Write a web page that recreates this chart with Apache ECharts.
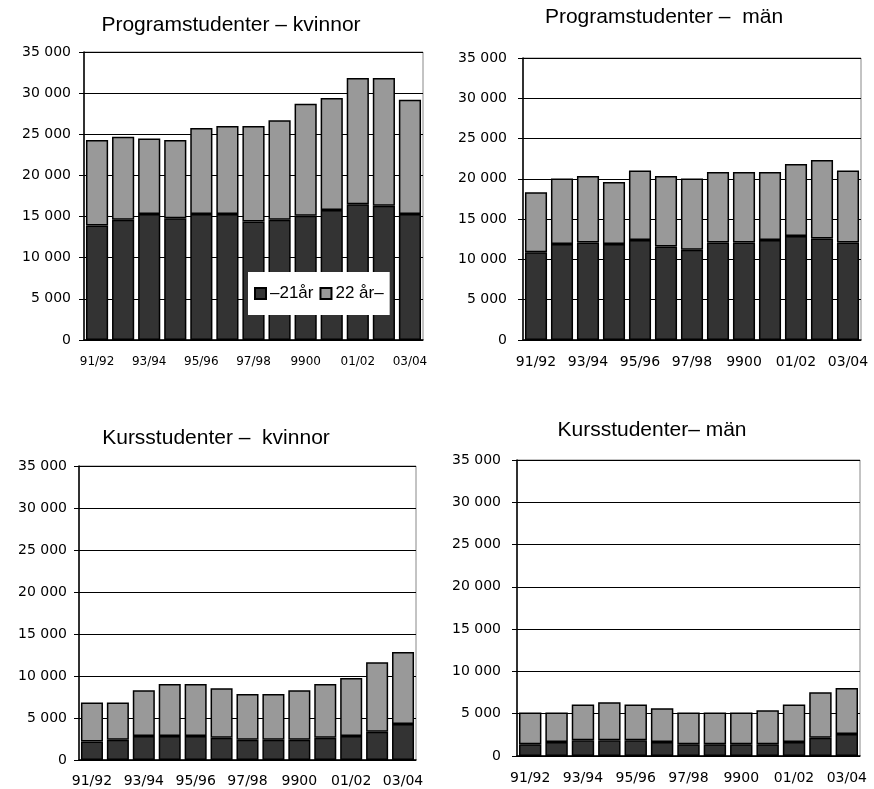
<!DOCTYPE html>
<html>
<head>
<meta charset="utf-8">
<script src="https://cdn.jsdelivr.net/npm/echarts@6/dist/echarts.min.js"></script>
<style>html,body{margin:0;padding:0;background:#fff}#c{width:874px;height:789px}</style>
</head>
<body>
<div id="c"></div>
<script>
var categories = ['91/92','92/93','93/94','94/95','95/96','96/97','97/98','98/99','9900','00/01','01/02','02/03','03/04'];
var seriesNames = ['\u201321år', '22 år\u2013'];
var titles = ['Programstudenter \u2013 kvinnor', 'Programstudenter \u2013  män', 'Kursstudenter \u2013  kvinnor', 'Kursstudenter\u2013 män'];

// Programstudenter – kvinnor
var progKvinnorUnder22 = [13900,14600,15300,14800,15300,15300,14400,14600,15100,15800,16500,16300,15300];
var progKvinnor22Plus  = [10400,10100,9200,9500,10450,10700,11600,12100,13600,13600,15350,15550,13900];
// Programstudenter – män
var progManUnder22 = [10900,11900,12100,11900,12400,11600,11200,12100,12100,12400,12900,12600,12100];
var progMan22Plus  = [7450,8150,8250,7700,8650,8750,8850,8750,8750,8450,8950,9750,8950];
// Kursstudenter – kvinnor
var kursKvinnorUnder22 = [2200,2400,2850,2850,2850,2650,2400,2400,2400,2650,2850,3350,4300];
var kursKvinnor22Plus  = [4650,4450,5450,6200,6200,5900,5450,5450,5900,6400,6900,8300,8550];
// Kursstudenter – män
var kursManUnder22 = [1400,1650,1850,1850,1850,1650,1400,1400,1400,1400,1650,2150,2600];
var kursMan22Plus  = [3750,3500,4250,4500,4250,4000,3750,3750,3750,4000,4450,5400,5450];

var yMax = 35000, yInterval = 5000;

var panelData = [
  [progKvinnorUnder22, progKvinnor22Plus],
  [progManUnder22, progMan22Plus],
  [kursKvinnorUnder22, kursKvinnor22Plus],
  [kursManUnder22, kursMan22Plus]
];

var grids = [
  {left: 84, top: 52, width: 339, height: 288},
  {left: 523, top: 58, width: 338, height: 282},
  {left: 79, top: 466, width: 337, height: 294},
  {left: 517, top: 460, width: 343, height: 296}
];
var titlePos = [
  {x: 231, y: 15},
  {x: 664, y: 7},
  {x: 216, y: 428},
  {x: 652, y: 420}
];
var yLabelMargin = [13, 16, 12, 16];
var xLabelSize = [12, 14, 14, 14];
var xLabelMargin = [16, 15, 14, 15];
var colors = ['#333333', '#999999'];

function fmt(v) {
  if (v === 0) return '0';
  return Math.floor(v / 1000) + ' 000';
}

var option = {
  animation: false,
  backgroundColor: '#fff',
  title: [],
  grid: [],
  xAxis: [],
  yAxis: [],
  series: [],
  legend: {
    data: seriesNames,
    left: 248, top: 272,
    backgroundColor: '#fff',
    padding: [13, 6, 13, 6],
    itemWidth: 11, itemHeight: 11, itemGap: 6,
    icon: 'rect',
    textStyle: {fontFamily: 'Liberation Sans', fontSize: 17, color: '#000', padding: [0,0,0,-1]},
    z: 10
  }
};

for (var i = 0; i < 4; i++) {
  option.title.push({
    text: titles[i],
    left: titlePos[i].x, top: titlePos[i].y,
    textAlign: 'center', padding: 0,
    textStyle: {fontFamily: 'Liberation Sans', fontSize: 21, fontWeight: 'normal', color: '#000'}
  });
  option.grid.push({
    left: grids[i].left, top: grids[i].top, width: grids[i].width, height: grids[i].height,
    show: true, borderColor: '#888', borderWidth: 1, backgroundColor: 'transparent'
  });
  option.xAxis.push({
    type: 'category', gridIndex: i, data: categories,
    axisLine: {lineStyle: {color: '#000', width: 1.5}},
    axisTick: {show: false},
    axisLabel: {interval: 1, color: '#000', fontFamily: 'DejaVu Sans', fontSize: xLabelSize[i], margin: xLabelMargin[i]}
  });
  option.yAxis.push({
    type: 'value', gridIndex: i, min: 0, max: yMax, interval: yInterval,
    axisLine: {show: true, lineStyle: {color: '#000', width: 1.5}},
    axisTick: {show: true, length: 5, lineStyle: {color: '#000'}},
    splitLine: {show: true, lineStyle: {color: '#000', width: 1}},
    axisLabel: {color: '#000', fontFamily: 'DejaVu Sans', fontSize: 14, margin: yLabelMargin[i], formatter: fmt}
  });
  for (var s = 0; s < 2; s++) {
    option.series.push({
      type: 'bar', name: seriesNames[s], stack: 'p' + i,
      xAxisIndex: i, yAxisIndex: i,
      data: panelData[i][s],
      barCategoryGap: '15%',
      itemStyle: {color: colors[s], borderColor: '#000', borderWidth: 1.5}
    });
  }
}

var chart = echarts.init(document.getElementById('c'), null, {renderer: 'canvas'});
chart.setOption(option);
</script>
</body>
</html>
